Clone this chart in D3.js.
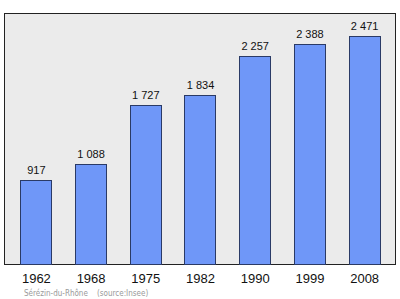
<!DOCTYPE html>
<html><head><meta charset="utf-8">
<script src="https://cdn.jsdelivr.net/npm/d3@7"></script>
<style>body{margin:0;background:#fff}svg{display:block}</style>
</head><body>
<svg id="c" width="400" height="299"></svg>
<script>
const years = ["1962","1968","1975","1982","1990","1999","2008"];
const population = [917, 1088, 1727, 1834, 2257, 2388, 2471];
const valueLabels = ["917","1 088","1 727","1 834","2 257","2 388","2 471"];
const footer = "Sérézin-du-Rhône    (source:Insee)";

const svg = d3.select("#c");
const pLeft = 4.5, pRight = 395.5, pTop = 13.5, pBottom = 264.5;

svg.append("rect").attr("x", pLeft).attr("y", pTop)
  .attr("width", pRight - pLeft).attr("height", pBottom - pTop)
  .attr("fill", "#ebebeb").attr("stroke", "#222").attr("stroke-width", 1);

const x = d3.scaleBand().domain(years).range([pLeft, pRight]).paddingInner(0.433).paddingOuter(0.29);
const y = d3.scaleLinear().domain([0, d3.max(population) * 1.1]).range([pBottom, pTop]);

const g = svg.append("g");
g.selectAll("rect.bar").data(population).join("rect")
  .attr("class", "bar")
  .attr("x", (d, i) => Math.round(x(years[i])) + 0.5)
  .attr("y", d => Math.round(y(d)) + 0.5)
  .attr("width", Math.round(x.bandwidth()))
  .attr("height", d => pBottom - Math.round(y(d)) - 0.5)
  .attr("fill", "#6f97f8").attr("stroke", "#2a3a66").attr("stroke-width", 1);

g.selectAll("text.val").data(population).join("text")
  .attr("class", "val")
  .attr("x", (d, i) => x(years[i]) + x.bandwidth() / 2 + 0.5)
  .attr("y", d => y(d) - 6)
  .attr("text-anchor", "middle")
  .attr("font-family", "Liberation Sans, Arial, sans-serif").attr("font-size", 11).attr("fill", "#111")
  .text((d, i) => valueLabels[i]);

const xAxis = d3.axisBottom(x).tickSize(0).tickPadding(0);
const ax = svg.append("g").attr("transform", `translate(0.5,${pBottom})`).call(xAxis);
ax.select(".domain").remove();
ax.selectAll("text").attr("y", 18).attr("dy", 0)
  .attr("font-family", "Liberation Sans, Arial, sans-serif").attr("font-size", 13).attr("fill", "#111");

svg.append("text").attr("x", 24).attr("y", 296)
  .attr("font-family", "DejaVu Sans Condensed, DejaVu Sans, sans-serif").attr("font-size", 8)
  .attr("fill", "#999").attr("xml:space", "preserve").style("white-space", "pre")
  .text(footer);
</script>
</body></html>
